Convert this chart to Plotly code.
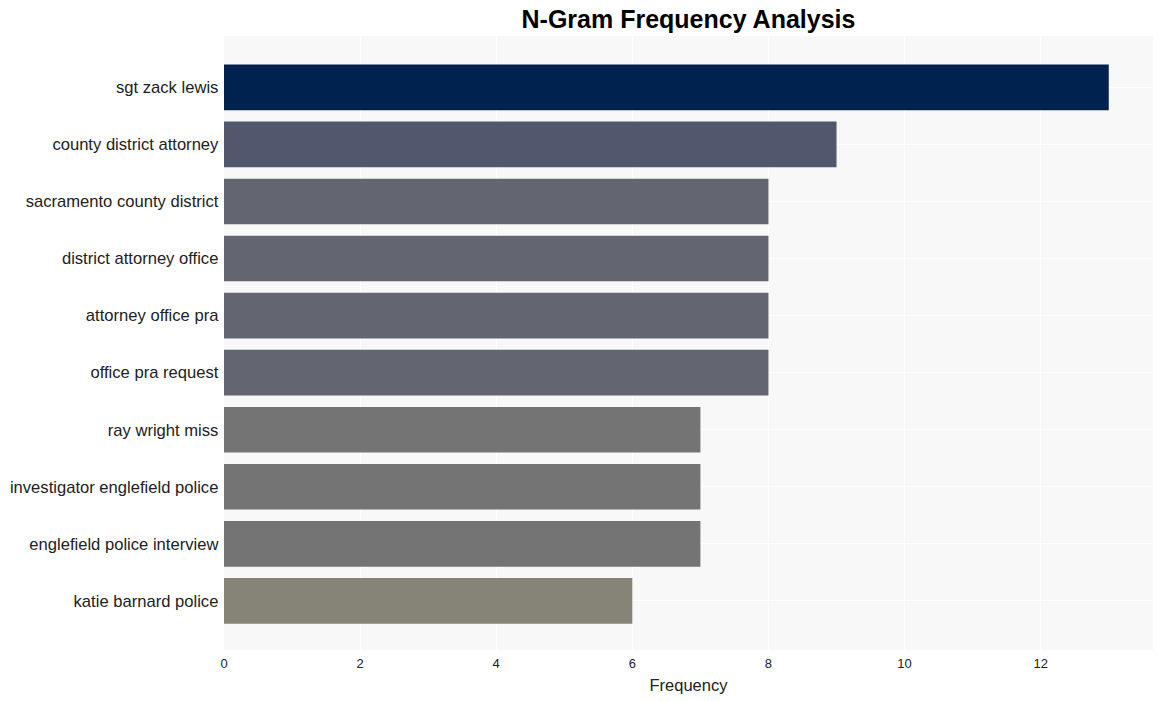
import plotly.graph_objects as go

ngrams = [
    "sgt zack lewis",
    "county district attorney",
    "sacramento county district",
    "district attorney office",
    "attorney office pra",
    "office pra request",
    "ray wright miss",
    "investigator englefield police",
    "englefield police interview",
    "katie barnard police",
]
freqs = [13, 9, 8, 8, 8, 8, 7, 7, 7, 6]

fig = go.Figure(
    go.Bar(
        x=freqs,
        y=ngrams,
        orientation="h",
        width=0.8,
        marker=dict(color=freqs, colorscale="Cividis_r", cmin=0, cmax=13, line=dict(width=0)),
    )
)

fig.update_layout(
    width=1163,
    height=701,
    margin=dict(l=224, r=10, t=36, b=49),
    paper_bgcolor="white",
    plot_bgcolor="#f8f8f8",
    font=dict(family="Liberation Sans, Arial, sans-serif", color="#222"),
    title=dict(
        text="<b>N-Gram Frequency Analysis</b>",
        x=0.5,
        xref="paper",
        xanchor="center",
        y=0.973,
        yanchor="middle",
        font=dict(size=25, color="black"),
    ),
    xaxis=dict(
        title=dict(text="Frequency", font=dict(size=16.5), standoff=9),
        tickfont=dict(size=13),
        ticks="outside",
        ticklen=1,
        tickcolor="rgba(0,0,0,0)",
        gridcolor="white",
        gridwidth=1,
        dtick=2,
        zeroline=False,
        range=[0, 13.65],
    ),
    yaxis=dict(
        tickfont=dict(size=16.6),
        gridcolor="white",
        range=[9.86, -0.9],
        ticksuffix=" ",
    ),
    showlegend=False,
)

fig.write_html("out.html")
